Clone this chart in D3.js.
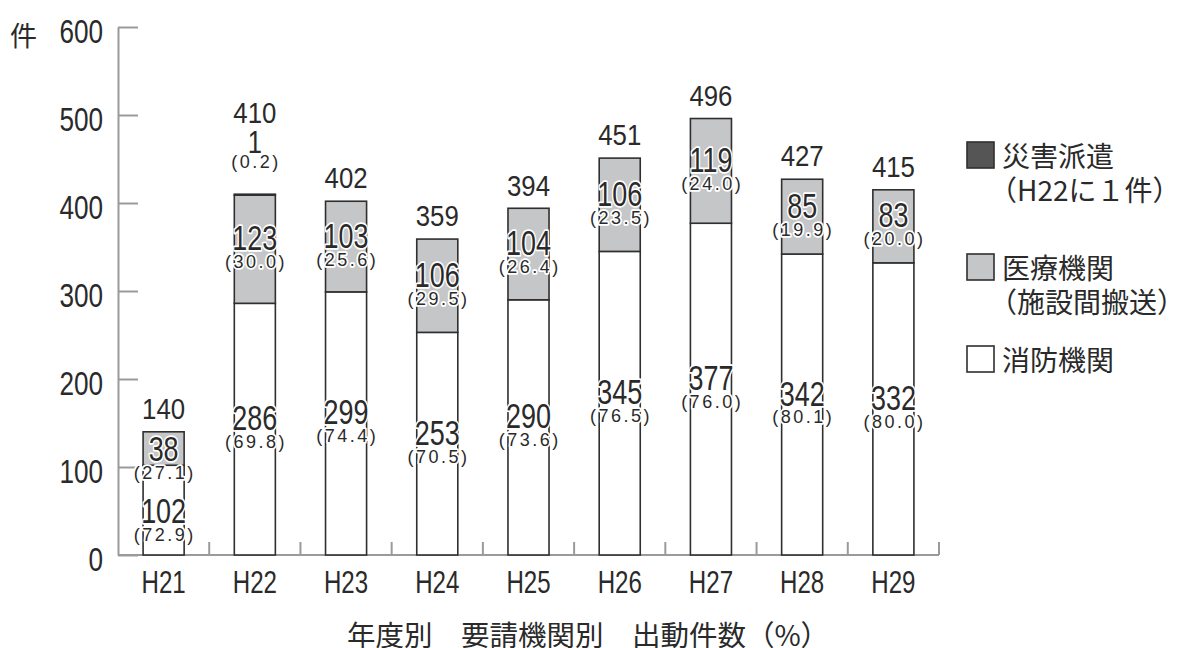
<!DOCTYPE html>
<html><head><meta charset="utf-8">
<script src="https://cdn.jsdelivr.net/npm/d3@7"></script>
<style>body{margin:0;background:#fff}</style>
</head><body><svg id="c" width="1178" height="648"></svg>
<script>
const categories = ["H21","H22","H23","H24","H25","H26","H27","H28","H29"];
const fire = [102,286,299,253,290,345,377,342,332];
const medical = [38,123,103,106,104,106,119,85,83];
const disaster = [0,1,0,0,0,0,0,0,0];
const totals = [140,410,402,359,394,451,496,427,415];
const firePct = ["72.9","69.8","74.4","70.5","73.6","76.5","76.0","80.1","80.0"];
const medicalPct = ["27.1","30.0","25.6","29.5","26.4","23.5","24.0","19.9","20.0"];
const disasterPct = [null,"0.2",null,null,null,null,null,null,null];
const yTicks = [0,100,200,300,400,500,600];
const legendLabels = [["災害派遣","（H22に１件）"],["医療機関","（施設間搬送）"],["消防機関"]];
const unitLabel = "件";
const titleText = "年度別　要請機関別　出動件数（%）";

const svg = d3.select("#c");
const NUM = "'Liberation Sans',Arial,sans-serif";
const CJK = "'Noto Sans CJK JP','Noto Sans CJK SC',sans-serif";
const INK = "#2a2a2a";
const AX = "#9a9a9a";
const colors = {fire:"#ffffff", medical:"#c5c6c8", disaster:"#555555"};

const x = d3.scaleBand().domain(categories).range([118,939]).paddingInner(0.55).paddingOuter(0.275);
const y = d3.scaleLinear().domain([0,600]).range([555,27]);

const rows = categories.map((c,i)=>({cat:c, fire:fire[i], medical:medical[i], disaster:disaster[i],
  total:totals[i], firePct:firePct[i], medicalPct:medicalPct[i], disasterPct:disasterPct[i]}));
const keys = ["fire","medical","disaster"];
const series = d3.stack().keys(keys)(rows);

function cy(center, fs){ return center + 0.358*fs; }
// condensed numeric text: center position (cx, center), font size, horizontal squeeze
function ntext(g, cx, center, fs, sx, txt, anchor){
  return g.append("text")
    .attr("transform",`translate(${cx},${cy(center,fs)}) scale(${sx},1)`)
    .attr("text-anchor",anchor||"middle")
    .attr("font-family",NUM).attr("font-size",fs).attr("fill",INK).text(txt);
}
function halo(sel){ return sel.attr("stroke","#fff").attr("stroke-width",3.5).attr("stroke-linejoin","round").attr("paint-order","stroke"); }

// y axis
const yAxis = d3.axisRight(y).tickValues(yTicks).tickSize(20).tickSizeOuter(0).tickFormat("");
const gy = svg.append("g").attr("transform","translate(118,0)").call(yAxis);
gy.selectAll("path,line").attr("stroke",AX).attr("stroke-width",2);
const gyl = svg.append("g");
yTicks.forEach(d=>ntext(gyl,103,y(d)+4,33.5,0.78,d,"end"));

// x axis line and boundary ticks
svg.append("line").attr("x1",118).attr("x2",x.range()[1]).attr("y1",y(0)).attr("y2",y(0))
  .attr("stroke",AX).attr("stroke-width",2);
svg.append("g").selectAll("line").data(categories).join("line")
  .attr("x1",d=>x(d)+x.bandwidth()/2+x.step()/2).attr("x2",d=>x(d)+x.bandwidth()/2+x.step()/2)
  .attr("y1",y(0)).attr("y2",y(0)-13).attr("stroke",AX).attr("stroke-width",2);

const xAxis = d3.axisBottom(x).tickSize(0).tickPadding(0);
const gx = svg.append("g").call(xAxis);
gx.select(".domain").remove();
gx.selectAll("text").attr("font-family",NUM).attr("font-size",30.5).attr("fill",INK)
  .attr("dy",null).attr("y",0)
  .attr("transform",`translate(0,${cy(582,30.5)}) scale(0.79,1)`);

// bars
svg.append("g").selectAll("g").data(series).join("g")
  .attr("fill",d=>colors[d.key])
  .selectAll("rect").data(d=>d.filter(p=>p[1]-p[0]>0)).join("rect")
  .attr("x",d=>x(d.data.cat)).attr("width",x.bandwidth())
  .attr("y",d=>y(d[1])).attr("height",d=>y(d[0])-y(d[1]))
  .attr("stroke","#2f2f2f").attr("stroke-width",1.6);

// inner labels
const lab = svg.append("g");
function pctText(g, cx, center, txt){
  return g.append("text").attr("x",cx+1.2).attr("y",cy(center,18)).attr("text-anchor","middle")
    .attr("font-family",NUM).attr("font-size",18).attr("letter-spacing",2.5).attr("fill",INK).text(txt);
}
["fire","medical"].forEach(k=>{
  rows.forEach(r=>{
    const y0 = k==="fire"?0:r.fire, y1 = y0 + r[k];
    const mid = (y(y0)+y(y1))/2;
    const shift = (y(0)-y(r.total)) < 150 ? 11.5 : 0;
    const cx = x(r.cat)+x.bandwidth()/2;
    halo(ntext(lab,cx,mid-11.5+shift,35,0.77,r[k]));
    halo(pctText(lab,cx,mid+12.5+shift,"("+r[k+"Pct"]+")"));
  });
});

// totals and disaster labels
rows.forEach(r=>{
  const top = y(r.total);
  const cx = x(r.cat)+x.bandwidth()/2;
  let tc = top-23.5;
  if(r.disaster>0){
    pctText(lab,cx,top-33,"("+r.disasterPct+")");
    ntext(lab,cx,top-53,32,0.8,r.disaster);
    tc = top-81.5;
  }
  ntext(lab,cx,tc,30,0.86,r.total);
});

// unit label
svg.append("text").attr("x",10).attr("y",34).attr("dominant-baseline","central")
  .attr("font-family",CJK).attr("font-size",27).attr("fill",INK).text(unitLabel);

// legend
const legKeys = ["disaster","medical","fire"];
const legTop = [142,254,346];
const lg = svg.append("g");
legKeys.forEach((k,i)=>{
  lg.append("rect").attr("x",967).attr("y",legTop[i]).attr("width",27).attr("height",26)
    .attr("fill",colors[k]).attr("stroke","#2f2f2f").attr("stroke-width",1.6);
  legendLabels[i].forEach((t,j)=>{
    lg.append("text").attr("x", j===0?1002:989).attr("y",legTop[i]+13+j*34)
      .attr("dominant-baseline","central").attr("font-family",CJK).attr("font-size",28)
      .attr("fill",INK).text(t);
  });
});

// title
svg.append("text").attr("x",588).attr("y",633).attr("text-anchor","middle").attr("dominant-baseline","central")
  .attr("font-family",CJK).attr("font-size",28.5).attr("fill",INK).text(titleText);
</script></body></html>
